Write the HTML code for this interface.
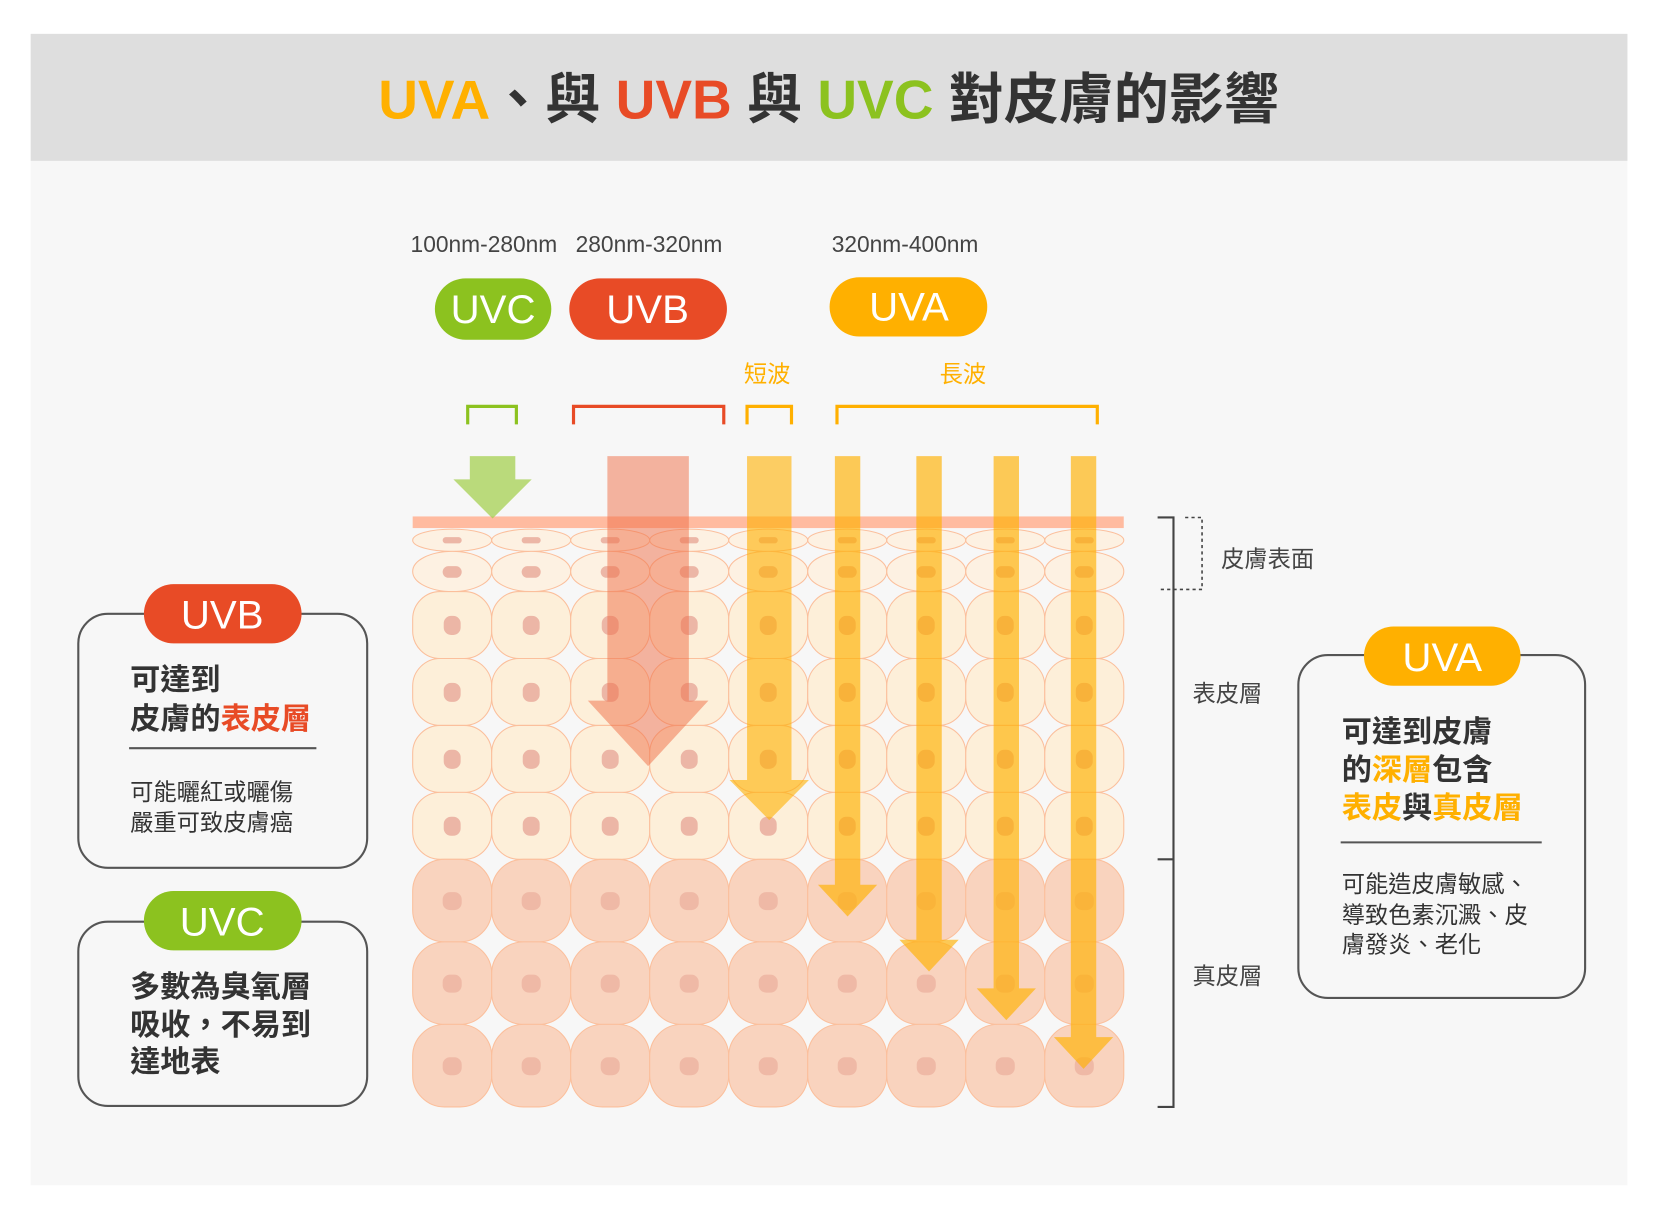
<!DOCTYPE html>
<html><head><meta charset="utf-8"><style>
html,body{margin:0;padding:0;background:#fff;}
svg{display:block;}
text{font-family:"Liberation Sans","Noto Sans CJK TC",sans-serif;}
</style></head><body>
<svg width="1656" height="1217" viewBox="0 0 1565 1150" preserveAspectRatio="none" xmlns="http://www.w3.org/2000/svg">
<rect x="0" y="0" width="1565" height="1150" fill="#fff"/>
<rect x="29" y="32" width="1509" height="1088" fill="#f7f7f7"/>
<rect x="29" y="32" width="1509" height="120" fill="#dedede"/>
<text x="783" y="112" text-anchor="middle" font-size="52" font-weight="bold" fill="#333"><tspan fill="#ffb000">UVA</tspan>、與 <tspan fill="#e84b26">UVB</tspan> 與 <tspan fill="#8cc21f">UVC</tspan> 對皮膚的影響</text>

<g font-size="21.5" fill="#444">
<text x="388" y="238">100nm-280nm</text>
<text x="544" y="238">280nm-320nm</text>
<text x="786" y="238">320nm-400nm</text>
</g>
<rect x="411" y="263" width="110" height="58" rx="29" fill="#8cc21f"/>
<rect x="538" y="263" width="149" height="58" rx="29" fill="#e84b26"/>
<rect x="784" y="262" width="149" height="56" rx="28" fill="#ffb000"/>
<g font-size="38" fill="#fff" text-anchor="middle">
<text x="466" y="305">UVC</text><text x="612" y="305">UVB</text><text x="859" y="303">UVA</text>
</g>
<g font-size="22" fill="#ffb000" text-anchor="middle"><text x="725" y="361">短波</text><text x="910" y="361">長波</text></g>
<g fill="none" stroke-width="3">
<path d="M442 401V384H488V401" stroke="#8cc21f"/>
<path d="M542 401V384H684V401" stroke="#e84b26"/>
<path d="M706 401V384H748V401" stroke="#ffb000"/>
<path d="M791 401V384H1037V401" stroke="#ffb000"/>
</g>

<rect x="390" y="488" width="672" height="11" fill="#ffbba0"/>
<g id="cells" stroke="#fbbf9c" stroke-width="1">
</g>
<g id="arrows"></g>

<g stroke="#444" stroke-width="2" fill="none">
<path d="M1094 489H1109V1046H1094M1094 812H1109"/>
<path d="M1120 489H1136V557H1094" stroke-dasharray="3,3" stroke-width="1.5"/>
</g>
<g font-size="22" fill="#444">
<text x="1154" y="536">皮膚表面</text>
<text x="1127" y="663">表皮層</text>
<text x="1127" y="930">真皮層</text>
</g>

<g fill="none" stroke="#555" stroke-width="2">
<rect x="74" y="580" width="273" height="240" rx="28"/>
<rect x="74" y="871" width="273" height="174" rx="28"/>
<rect x="1227" y="619" width="271" height="324" rx="28"/>
</g>
<rect x="136" y="552" width="149" height="56" rx="28" fill="#e84b26"/>
<rect x="136" y="842" width="149" height="56" rx="28" fill="#8cc21f"/>
<rect x="1289" y="592" width="148" height="56" rx="28" fill="#ffb000"/>
<g font-size="38" fill="#fff" text-anchor="middle">
<text x="210" y="594">UVB</text><text x="210" y="884">UVC</text><text x="1363" y="634">UVA</text>
</g>
<g font-size="28.5" font-weight="bold" fill="#333">
<text x="123" y="652">可達到</text>
<text x="123" y="689">皮膚的<tspan fill="#e84b26">表皮層</tspan></text>
<text x="123" y="942">多數為臭氧層</text>
<text x="123" y="978">吸收，不易到</text>
<text x="123" y="1013">達地表</text>
<text x="1268" y="701">可達到皮膚</text>
<text x="1268" y="737">的<tspan fill="#ffb000">深層</tspan>包含</text>
<text x="1268" y="773"><tspan fill="#ffb000">表皮</tspan>與<tspan fill="#ffb000">真皮層</tspan></text>
</g>
<line x1="122" y1="707" x2="299" y2="707" stroke="#555" stroke-width="2"/>
<line x1="1267" y1="796" x2="1457" y2="796" stroke="#555" stroke-width="2"/>
<g font-size="22" fill="#333">
<text x="123" y="756">可能曬紅或曬傷</text>
<text x="123" y="785">嚴重可致皮膚癌</text>
<text x="1268" y="843">可能造皮膚敏感、</text>
<text x="1268" y="872">導致色素沉澱、皮</text>
<text x="1268" y="900">膚發炎、老化</text>
</g>
</svg>
<script>
var NS="http://www.w3.org/2000/svg";
function el(p,t,a){var e=document.createElementNS(NS,t);for(var k in a)e.setAttribute(k,a[k]);p.appendChild(e);return e;}
var g=document.getElementById('cells');
var W=74.67;
for(var i=0;i<9;i++){
 var x=390+i*W, cx=x+W/2;
 el(g,'ellipse',{cx:cx,cy:510.5,rx:W/2,ry:10.5,fill:'#fdf1e2'});
 el(g,'rect',{x:cx-9,y:507.5,width:18,height:6,rx:3,fill:'#ecb6a6',stroke:'none'});
 el(g,'rect',{x:x,y:521,width:W,height:38,rx:W/2,ry:19,fill:'#fdf1e2'});
 el(g,'rect',{x:cx-9,y:535,width:18,height:11,rx:5.5,fill:'#ecb6a6',stroke:'none'});
 for(var r=0;r<4;r++){var y=559+r*63.25;
  el(g,'rect',{x:x,y:y,width:W,height:63.25,rx:26,fill:'#fdefd9'});
  el(g,'rect',{x:cx-8,y:y+23,width:16,height:18,rx:7,fill:'#ecb6a6',stroke:'none'});}
 for(var r=0;r<3;r++){var y=812+r*78;
  el(g,'rect',{x:x,y:y,width:W,height:78,rx:30,fill:'#f9d3be'});
  el(g,'rect',{x:cx-9,y:y+31,width:18,height:17,rx:7,fill:'#efb9a6',stroke:'none'});}
}
var a=document.getElementById('arrows');
function arrow(cx,sw,y0,hy,hw,tip,col){
 el(a,'path',{d:'M'+(cx-sw/2)+' '+y0+'H'+(cx+sw/2)+'V'+hy+'H'+(cx+hw/2)+'L'+cx+' '+tip+'L'+(cx-hw/2)+' '+hy+'H'+(cx-sw/2)+'Z',fill:col});
}
arrow(465.5,43,431,453,74,490,'rgba(160,205,70,0.7)');
arrow(612.5,77,431,662,114,724,'rgba(240,110,70,0.5)');
arrow(727,42,431,737,75,775,'rgba(255,176,0,0.6)');
arrow(801,24,431,836,56,866,'rgba(255,176,0,0.65)');
arrow(878,24,431,888,56,918,'rgba(255,176,0,0.65)');
arrow(951,24,431,934,56,964,'rgba(255,176,0,0.65)');
arrow(1024,24,431,980,56,1010,'rgba(255,176,0,0.65)');
</script>
</body></html>
